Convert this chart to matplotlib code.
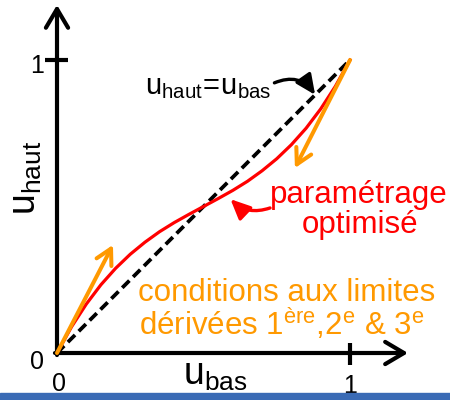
import matplotlib
matplotlib.use("Agg")
import matplotlib.pyplot as plt
from matplotlib.patches import Rectangle

plt.rcParams['font.family'] = ['Liberation Sans', 'DejaVu Sans']
plt.rcParams['mathtext.fontset'] = 'custom'
plt.rcParams['mathtext.rm'] = 'Liberation Sans'
plt.rcParams['mathtext.it'] = 'Liberation Sans'

# optimised parametrisation u_haut(u_bas)
u_bas = [0.0, 0.05, 0.10, 0.15, 0.20, 0.25, 0.30, 0.35, 0.40, 0.45, 0.50,
         0.55, 0.60, 0.65, 0.70, 0.75, 0.80, 0.85, 0.90, 0.95, 1.0]
u_haut = [0.0, 0.090, 0.167, 0.233, 0.289, 0.337, 0.378, 0.414, 0.445, 0.473, 0.500,
          0.527, 0.555, 0.586, 0.622, 0.663, 0.711, 0.767, 0.833, 0.910, 1.0]

# identity line u_haut = u_bas
ident_x = [0.0, 1.0]
ident_y = [0.0, 1.0]

# end-point tangents (boundary conditions): (start, tip)
tangents = [((0.0, 0.0), (0.191, 0.369)),
            ((1.0, 1.0), (0.812, 0.631))]

tick_vals = [0, 1]
tick_labels = ["0", "1"]

RED = '#ff0000'
ORANGE = '#ff9900'
BLACK = '#000000'

fig = plt.figure(figsize=(4.5, 4.0), dpi=100)
ax = fig.add_axes([0, 0, 1, 1])
ax.set_xlim(-57 / 293, 393 / 293)
ax.set_ylim(-47 / 293, 353 / 293)
ax.axis('off')

# axes with open arrow heads
axis_arrow = dict(arrowstyle='->,head_length=1.35,head_width=0.8', mutation_scale=10,
                  lw=3.0, color=BLACK, shrinkA=0, shrinkB=0)
ax.annotate('', xy=(0, 1.188), xytext=(0, -0.007), arrowprops=axis_arrow)
ax.annotate('', xy=(1.198, 0), xytext=(-0.007, 0), arrowprops=axis_arrow)

# ticks at 1
ax.plot([-0.041, 0.038], [1, 1], color=BLACK, lw=3.0, solid_capstyle='butt')
ax.plot([1, 1], [-0.041, 0.034], color=BLACK, lw=3.0, solid_capstyle='butt')

ax.text(-0.068, tick_vals[1] - 0.02, tick_labels[1], fontsize=18, ha='center', va='center')
ax.text(-0.068, tick_vals[0] - 0.031, tick_labels[0], fontsize=18, ha='center', va='center')
ax.text(tick_vals[0] + 0.007, -0.106, tick_labels[0], fontsize=18, ha='center', va='center')
ax.text(tick_vals[1], -0.113, tick_labels[1], fontsize=18, ha='center', va='center')

# identity line and curve
ax.plot(ident_x, ident_y, color=BLACK, lw=2.7, dashes=(2.7, 1.4), dash_capstyle='butt')
ax.plot(u_bas, u_haut, color=RED, lw=2.3)

tan_arrow = dict(arrowstyle='->,head_length=1.1,head_width=0.6', mutation_scale=10,
                 lw=2.9, color=ORANGE, shrinkA=0, shrinkB=0)
for start, tip in tangents:
    ax.annotate('', xy=tip, xytext=start, arrowprops=tan_arrow)

# labels
ax.text(-0.106, 0.597, r'$\mathrm{u_{haut}}$', fontsize=27, rotation=90,
        ha='center', va='center')
ax.text(0.539, -0.109, r'$\mathrm{u_{bas}}$', fontsize=27, ha='center', va='baseline')

ax.text(0.515, 0.884, r'$\mathrm{u_{haut}\!=\!u_{bas}}$', fontsize=21,
        ha='center', va='baseline')
ax.annotate('', xy=(0.881, 0.881), xytext=(0.742, 0.922),
            arrowprops=dict(arrowstyle='-|>,head_length=1.2,head_width=0.55', mutation_scale=10,
                            lw=2.4, color=BLACK, shrinkA=0, shrinkB=0,
                            connectionstyle='arc3,rad=-0.4'))

ax.text(1.031, 0.512, 'paramétrage', fontsize=22.5, color=RED, ha='center', va='baseline')
ax.text(1.034, 0.410, 'optimisé', fontsize=22.5, color=RED, ha='center', va='baseline')
ax.annotate('', xy=(0.592, 0.525), xytext=(0.727, 0.495),
            arrowprops=dict(arrowstyle='-|>,head_length=1.2,head_width=0.55', mutation_scale=10,
                            lw=2.4, color=RED, shrinkA=0, shrinkB=0,
                            connectionstyle='arc3,rad=-0.3'))

ax.text(0.782, 0.177, 'conditions aux limites', fontsize=22.5, color=ORANGE,
        ha='center', va='baseline')
ax.text(0.768, 0.061, r'dérivées 1$^{\mathrm{ère}}$,2$^{\mathrm{e}}$ & 3$^{\mathrm{e}}$',
        fontsize=22.5, color=ORANGE, ha='center', va='baseline')

# blue band at the bottom edge
fig.patches.append(Rectangle((0, 0), 1, 7 / 400, transform=fig.transFigure,
                             color='#3a6bb5', zorder=5))

fig.savefig('out.png', dpi=100)
